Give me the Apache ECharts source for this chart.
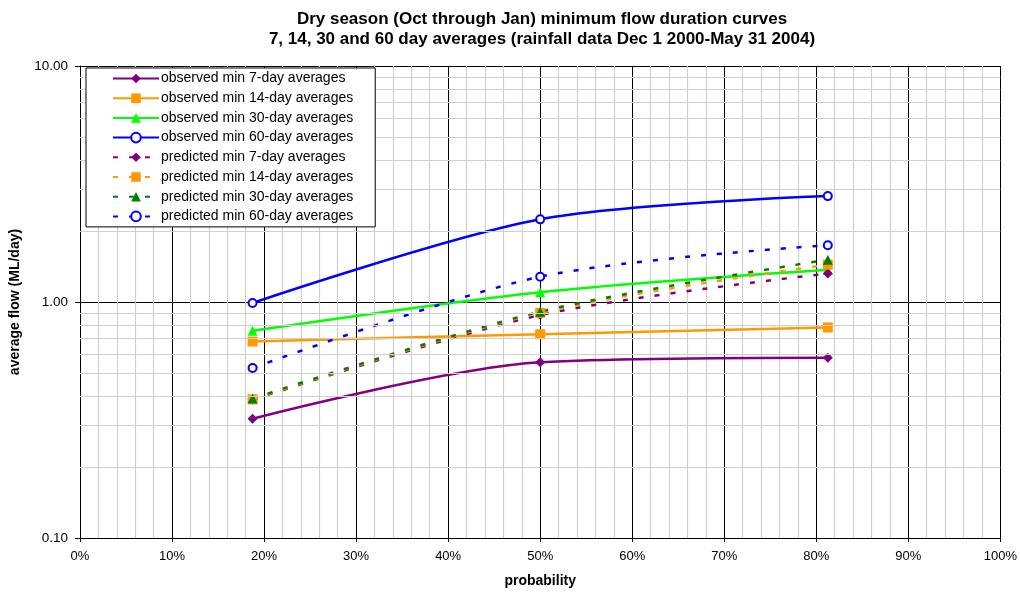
<!DOCTYPE html>
<html>
<head>
<meta charset="utf-8">
<script src="https://cdn.jsdelivr.net/npm/echarts@6/dist/echarts.min.js"></script>
<style>
    html, body { margin: 0; padding: 0; background: #fff; }
    #chart { width: 1020px; height: 596px; }
</style>
</head>
<body>
<div id="chart"></div>
<script>
// probability (%) of each point
const probability = [18.75, 50, 81.25];

// observed minimum n-day averages (ML/day)
const observed7 = [0.32, 0.555, 0.58];
const observed14 = [0.68, 0.73, 0.78];
const observed30 = [0.755, 1.10, 1.37];
const observed60 = [0.99, 2.24, 2.81];

// predicted minimum n-day averages (ML/day)
const predicted7 = [0.385, 0.88, 1.32];
const predicted14 = [0.387, 0.90, 1.44];
const predicted30 = [0.39, 0.91, 1.51];
const predicted60 = [0.525, 1.28, 1.74];

// minor gridlines of the log axis
const minorLogTicks = [0.2, 0.3, 0.4, 0.5, 0.6, 0.7, 0.8, 0.9, 2, 3, 4, 5, 6, 7, 8, 9];

const FONT = "Liberation Sans, Arial, sans-serif";

const chart = echarts.init(document.getElementById("chart"));

function pairs(values) {
    return probability.map((p, i) => [p, values[i]]);
}

function lineSeries(name, values, color, symbol, dashed) {
    const open = symbol === "emptyCircle";
    return {
        name: name,
        type: "line",
        data: pairs(values),
        smooth: 0.3,
        symbol: symbol,
        symbolSize: open ? 8 : 10,
        showAllSymbol: true,
        lineStyle: {
            color: color,
            width: 2.5,
            type: dashed ? [5, 11] : "solid",
        },
        itemStyle: {
            color: color,
            borderWidth: open ? 1.5 : 0,
        },
        z: 3,
        animation: false,
    };
}

const seriesList = [
    lineSeries("observed min 7-day averages", observed7, "#800080", "diamond", false),
    lineSeries("observed min 14-day averages", observed14, "#FF9900", "rect", false),
    lineSeries("observed min 30-day averages", observed30, "#00FF00", "triangle", false),
    lineSeries("observed min 60-day averages", observed60, "#0000FF", "emptyCircle", false),
    lineSeries("predicted min 7-day averages", predicted7, "#800080", "diamond", true),
    lineSeries("predicted min 14-day averages", predicted14, "#FF9900", "rect", true),
    lineSeries("predicted min 30-day averages", predicted30, "#008000", "triangle", true),
    lineSeries("predicted min 60-day averages", predicted60, "#0000FF", "emptyCircle", true),
];

const option = {
    backgroundColor: "#fff",
    animation: false,
    textStyle: { fontFamily: FONT },
    title: {
        text: "Dry season (Oct through Jan) minimum flow duration curves\n7, 14, 30 and 60 day averages (rainfall data Dec 1 2000-May 31 2004)",
        left: 537,
        top: 4,
        textAlign: "center",
        textStyle: {
            fontFamily: FONT,
            fontSize: 17,
            fontWeight: "bold",
            color: "#000",
            lineHeight: 20,
        },
    },
    legend: {
        orient: "vertical",
        left: 86,
        top: 68,
        data: seriesList.map((s) => s.name),
        backgroundColor: "#fff",
        borderColor: "#000",
        borderWidth: 1,
        borderRadius: 0,
        padding: [3.5, 22, 3.5, 26],
        itemWidth: 46,
        itemHeight: 12,
        itemGap: 5.7,
        textStyle: {
            fontFamily: FONT,
            fontSize: 14,
            lineHeight: 14,
            color: "#000",
            padding: [0, 0, 0, -3],
        },
        z: 10,
    },
    grid: {
        left: 79,
        right: 19,
        top: 66,
        bottom: 58,
        containLabel: false,
    },
    xAxis: {
        type: "value",
        min: 0,
        max: 100,
        interval: 10,
        name: "probability",
        nameLocation: "middle",
        nameGap: 36,
        nameTextStyle: { fontFamily: FONT, fontSize: 14, fontWeight: "bold", color: "#000" },
        axisLine: { show: true, lineStyle: { color: "#000", width: 1 } },
        axisTick: { show: true, length: 4, lineStyle: { color: "#000" } },
        axisLabel: {
            formatter: "{value}%",
            fontFamily: FONT,
            fontSize: 13,
            color: "#000",
            margin: 12,
        },
        splitLine: { show: true, lineStyle: { color: "#000", width: 1 } },
        minorTick: { show: false, splitNumber: 5 },
        minorSplitLine: { show: true, lineStyle: { color: "#cfcfcf", width: 1.2 } },
    },
    yAxis: {
        type: "log",
        logBase: 10,
        min: 0.1,
        max: 10,
        name: "average flow (ML/day)",
        nameLocation: "middle",
        nameGap: 58,
        nameTextStyle: { fontFamily: FONT, fontSize: 14, fontWeight: "bold", color: "#000" },
        axisLine: { show: true, lineStyle: { color: "#000", width: 1 } },
        axisTick: { show: true, length: 5, lineStyle: { color: "#000" } },
        axisLabel: {
            formatter: (v) => v.toFixed(2),
            fontFamily: FONT,
            fontSize: 13.5,
            color: "#000",
            margin: 12,
        },
        splitLine: { show: true, lineStyle: { color: "#000", width: 1 } },
    },
    series: [
        {
            name: "minor grid",
            type: "line",
            data: [],
            silent: true,
            z: 1,
            markLine: {
                silent: true,
                symbol: ["none", "none"],
                animation: false,
                label: { show: false },
                lineStyle: { color: "#cfcfcf", width: 1.2, type: "solid" },
                data: minorLogTicks.map((v) => ({ yAxis: v })),
            },
        },
        ...seriesList,
    ],
};

chart.setOption(option);
</script>
</body>
</html>
